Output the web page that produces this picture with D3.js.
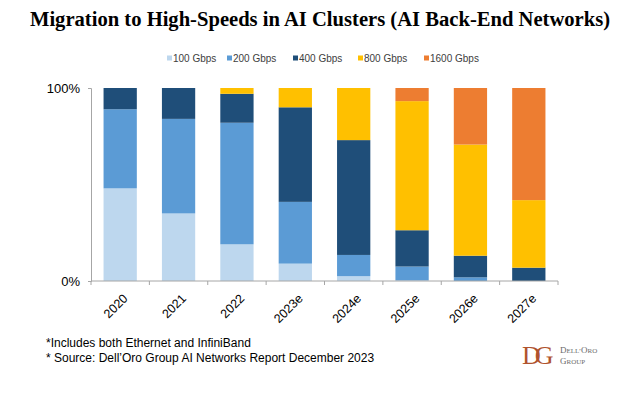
<!DOCTYPE html>
<html>
<head>
<meta charset="utf-8">
<script src="https://cdn.jsdelivr.net/npm/d3@7"></script>
<style>
  body { margin: 0; background: #fff; }
  svg { display: block; }
</style>
</head>
<body>
<svg></svg>
<script>
var years = ['2020', '2021', '2022', '2023e', '2024e', '2025e', '2026e', '2027e']
var speeds = ['100 Gbps', '200 Gbps', '400 Gbps', '800 Gbps', '1600 Gbps']
var colors = ['#BDD7EE', '#5B9BD5', '#1F4E79', '#FFC000', '#ED7D31']

// share of each speed per year, percent
var s100  = [48, 35, 19, 9, 2.5, 0.3, 0, 0]
var s200  = [41, 49, 63, 32, 11, 7.2, 1.9, 0]
var s400  = [11, 16, 15, 49, 59.5, 18.8, 11.2, 6.9]
var s800  = [0, 0, 3, 10, 27, 66.9, 57.6, 35]
var s1600 = [0, 0, 0, 0, 0, 6.8, 29.3, 58.1]
var yTicks = [0, 100]

var rows = years.map(function(y, i) {
    return { year: y, '100 Gbps': s100[i], '200 Gbps': s200[i], '400 Gbps': s400[i],
             '800 Gbps': s800[i], '1600 Gbps': s1600[i] }
})

var svgWidth = 643, svgHeight = 394
var margin = { top: 88, right: 85, bottom: 113, left: 91 }
var width = svgWidth - margin.left - margin.right
var height = svgHeight - margin.top - margin.bottom

var svg = d3.select('svg')
    .attr('width', svgWidth)
    .attr('height', svgHeight)

// Title
svg.append('text')
    .attr('x', 320)
    .attr('y', 26)
    .attr('text-anchor', 'middle')
    .attr('font-family', 'Liberation Serif, Times New Roman, serif')
    .attr('font-weight', 'bold')
    .attr('font-size', '20.6px')
    .attr('fill', '#000')
    .text('Migration to High-Speeds in AI Clusters (AI Back-End Networks)')

// Legend
var legendX = [167, 227, 293, 358, 424]
var legend = svg.append('g')
    .attr('font-family', 'Liberation Sans, Arial, sans-serif')
    .attr('font-size', '10px')
speeds.forEach(function(s, i) {
    legend.append('rect')
        .attr('x', legendX[i])
        .attr('y', 55.5)
        .attr('width', 5)
        .attr('height', 5)
        .attr('fill', colors[i])
    legend.append('text')
        .attr('x', legendX[i] + 6)
        .attr('y', 62)
        .attr('fill', '#404040')
        .text(s)
})

var g = svg.append('g')
    .attr('transform', 'translate(' + margin.left + ',' + margin.top + ')')

var x = d3.scaleBand().domain(years).range([0, width]).paddingInner(0.43).paddingOuter(0.215)
var y = d3.scaleLinear().domain([0, 100]).range([height, 0])

var stack = d3.stack().keys(speeds)
var series = stack(rows)

g.selectAll('g.layer')
    .data(series)
    .enter().append('g')
    .attr('class', 'layer')
    .attr('fill', function(d, i) { return colors[i] })
    .selectAll('rect')
    .data(function(d) { return d })
    .enter().append('rect')
    .attr('x', function(d) { return x(d.data.year) })
    .attr('y', function(d) { return y(Math.min(d[1], 100)) })
    .attr('width', x.bandwidth())
    .attr('height', function(d) { return Math.max(0, y(d[0]) - y(Math.min(d[1], 100))) })

// Y axis
var yAxis = g.append('g')
    .call(d3.axisLeft(y).tickValues(yTicks).tickFormat(function(d) { return d + '%' }).tickSize(3).tickPadding(8))
yAxis.selectAll('path, line').attr('stroke', '#A6A6A6')
yAxis.selectAll('text')
    .attr('font-family', 'Liberation Sans, Arial, sans-serif')
    .attr('font-size', '13px')
    .attr('fill', '#000')

// X axis
var xAxis = g.append('g')
    .attr('transform', 'translate(0,' + height + ')')
xAxis.append('line')
    .attr('x1', 0).attr('x2', width)
    .attr('stroke', '#A6A6A6')
xAxis.selectAll('line.tick')
    .data(d3.range(years.length + 1))
    .enter().append('line')
    .attr('class', 'tick')
    .attr('x1', function(i) { return i * width / years.length })
    .attr('x2', function(i) { return i * width / years.length })
    .attr('y1', 0).attr('y2', 4)
    .attr('stroke', '#A6A6A6')
xAxis.selectAll('text')
    .data(years)
    .enter().append('text')
    .attr('transform', function(d) {
        return 'translate(' + (x(d) + x.bandwidth() / 2 + 2) + ',12) rotate(-45)'
    })
    .attr('text-anchor', 'end')
    .attr('dy', '0.71em')
    .attr('font-family', 'Liberation Sans, Arial, sans-serif')
    .attr('font-size', '12.5px')
    .attr('fill', '#000')
    .text(function(d) { return d })

// Footnotes
var notes = svg.append('g')
    .attr('font-family', 'Liberation Sans, Arial, sans-serif')
    .attr('font-size', '12px')
    .attr('fill', '#000')
notes.append('text').attr('x', 46).attr('y', 347).text('*Includes both Ethernet and InfiniBand')
notes.append('text').attr('x', 46).attr('y', 362).text('* Source: Dell\u2019Oro Group AI Networks Report December 2023')

// Logo
var logo = svg.append('g')
    .attr('font-family', 'Liberation Serif, Times New Roman, serif')
logo.append('text')
    .attr('x', 522).attr('y', 364)
    .attr('font-size', '26px')
    .attr('letter-spacing', '-6px')
    .attr('fill', '#B0532D')
    .text('DG')
var small = logo.append('g').attr('fill', '#6b6b6b').attr('font-size', '7px')
small.append('text').attr('x', 560).attr('y', 353)
    .html('<tspan font-size="9px">D</tspan>ELL\u2019<tspan font-size="9px">O</tspan>RO')
small.append('text').attr('x', 560).attr('y', 364)
    .html('<tspan font-size="9px">G</tspan>ROUP')
</script>
</body>
</html>
